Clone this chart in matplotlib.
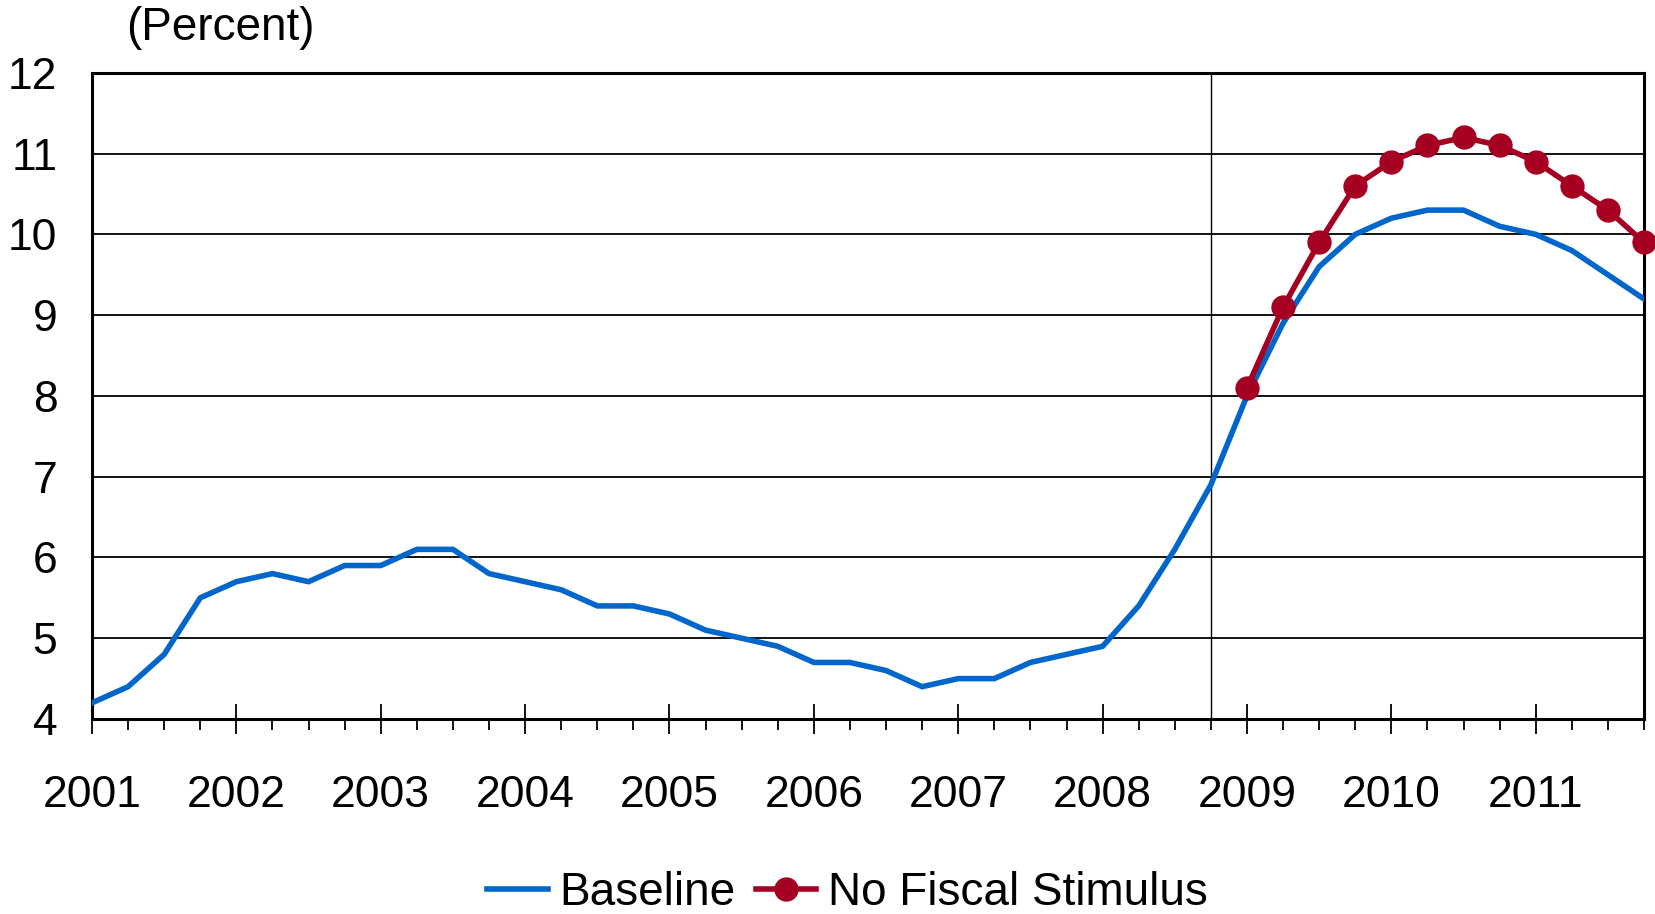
import matplotlib
matplotlib.use("Agg")
import matplotlib.pyplot as plt
from matplotlib.ticker import FixedLocator, NullFormatter

plt.rcParams['font.family'] = ['Liberation Sans', 'DejaVu Sans']

# Quarterly unemployment rate, 2001Q1 - 2011Q4
years = list(range(2001, 2012))
baseline = [4.2, 4.4, 4.8, 5.5,
            5.7, 5.8, 5.7, 5.9,
            5.9, 6.1, 6.1, 5.8,
            5.7, 5.6, 5.4, 5.4,
            5.3, 5.1, 5.0, 4.9,
            4.7, 4.7, 4.6, 4.4,
            4.5, 4.5, 4.7, 4.8,
            4.9, 5.4, 6.1, 6.9,
            8.0, 8.9, 9.6, 10.0,
            10.2, 10.3, 10.3, 10.1,
            10.0, 9.8, 9.5, 9.2]
# Scenario path begins in 2009Q1
no_stimulus_start = 32
no_stimulus = [8.1, 9.1, 9.9, 10.6,
               10.9, 11.1, 11.2, 11.1,
               10.9, 10.6, 10.3, 9.9]
forecast_break = 31  # 2008Q4

blue = '#0066CC'
red = '#A50021'

fig = plt.figure(figsize=(16.55, 9.14), dpi=100)
ax = fig.add_axes([92 / 1655, 1 - 719 / 914, (1644 - 92) / 1655, (719 - 72.8) / 914])

qx = list(range(len(baseline)))
sx = list(range(no_stimulus_start, no_stimulus_start + len(no_stimulus)))

ax.plot(qx, baseline, color=blue, lw=4.0, solid_joinstyle='miter', label='Baseline', zorder=3)
ax.plot(sx, no_stimulus, color=red, lw=4.0, marker='o', markersize=16.5,
        label='No Fiscal Stimulus', zorder=4, clip_on=False)
ax.axvline(forecast_break, color='black', lw=1.0, zorder=2)

ax.set_xlim(0, len(baseline) - 1)
ax.set_ylim(4, 12)
ax.set_yticks(range(4, 13))
ax.yaxis.grid(True, color='black', lw=1.3, zorder=1)
ax.tick_params(axis='y', length=0, pad=25, labelsize=32)

major = [4 * i for i in range(len(years))]
ax.xaxis.set_major_locator(FixedLocator(major))
ax.xaxis.set_minor_locator(FixedLocator(qx))
ax.xaxis.set_minor_formatter(NullFormatter())
ax.set_xticklabels([str(y) for y in years])
ax.tick_params(axis='x', which='major', direction='inout', length=22, width=1.3,
               pad=29, labelsize=32)
ax.tick_params(axis='x', which='minor', direction='out', length=8, width=1.3)

for s in ax.spines.values():
    s.set_linewidth(2.2)
    s.set_color('black')

fig.text(220 / 1655, 1 - 28 / 914, '(Percent)', fontsize=33, ha='center', va='center')

fig.legend(loc='center', bbox_to_anchor=(0.512, 1 - 893 / 914), ncol=2, frameon=False,
           fontsize=33, handlelength=1.32, handletextpad=0.25, columnspacing=0.45,
           borderpad=0, borderaxespad=0)

fig.savefig('out.png', dpi=100)
